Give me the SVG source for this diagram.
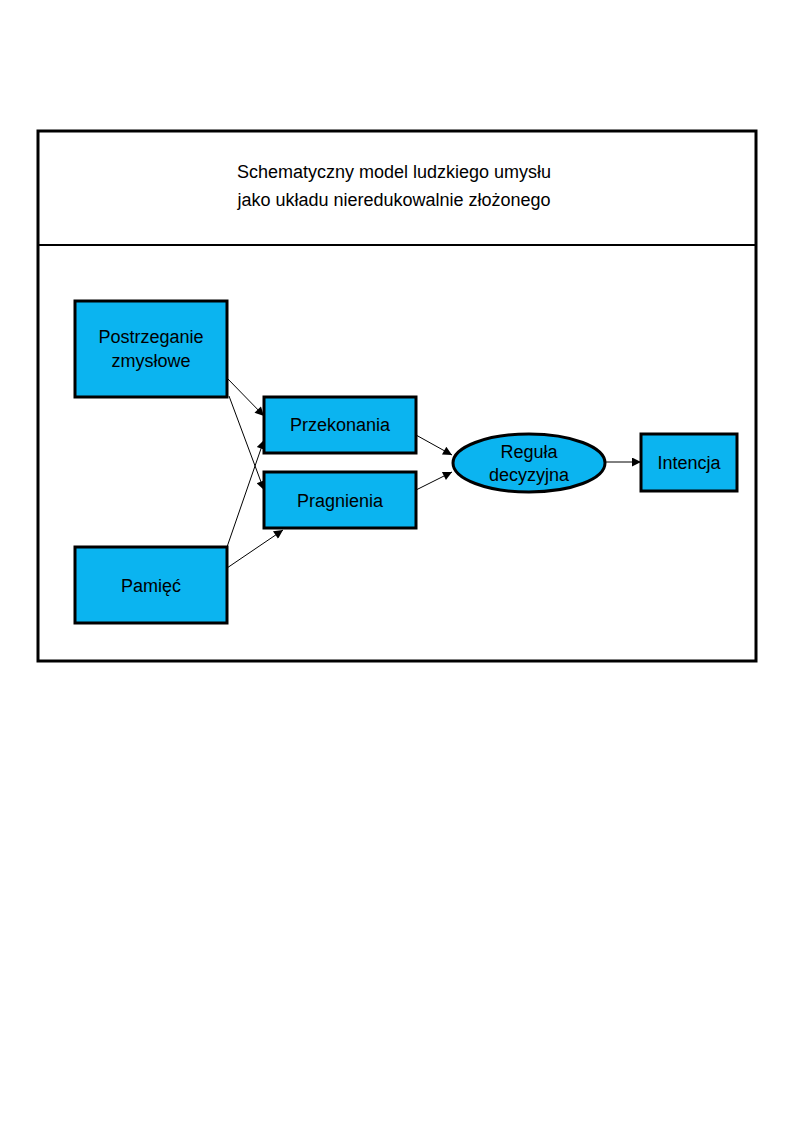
<svg xmlns="http://www.w3.org/2000/svg" width="794" height="1123" viewBox="0 0 794 1123">
<style>
.n{fill:#00B0F0;fill:#0bb4f0;stroke:#000;stroke-width:3}
.t{font-family:"Liberation Sans",Arial,sans-serif;font-size:18px;text-anchor:middle;fill:#000}
.c line{stroke:#000;stroke-width:1;marker-end:url(#a)}
</style>
<defs><marker id="a" viewBox="0 0 10 10" refX="10" refY="5" markerWidth="12" markerHeight="9" markerUnits="userSpaceOnUse" orient="auto"><path d="M0,0L10,5L0,10z" fill="#000"/></marker></defs>
<rect width="794" height="1123" fill="#fff"/>
<g id="frame"><rect x="38" y="131" width="718" height="530" fill="none" stroke="#000" stroke-width="3"/><line x1="38" y1="245" x2="756" y2="245" stroke="#000" stroke-width="2"/>
<text class="t" x="394" y="178" font-size="20">Schematyczny model ludzkiego umysłu</text><text class="t" x="394" y="206" font-size="20">jako układu nieredukowalnie złożonego</text></g>
<g class="c">
<line x1="227" y1="378" x2="264" y2="416"/>
<line x1="229" y1="396" x2="264" y2="490"/>
<line x1="227" y1="547" x2="264" y2="440"/>
<line x1="227" y1="568" x2="283" y2="530"/>
<line x1="416" y1="435" x2="452" y2="455"/>
<line x1="416" y1="490" x2="452" y2="472"/>
<line x1="605" y1="462" x2="641" y2="462"/>
</g>
<g id="postrzeganie"><rect class="n" x="75" y="301" width="152" height="96"/><text class="t" x="151" y="343">Postrzeganie</text><text class="t" x="151" y="367">zmysłowe</text></g>
<g id="pamiec"><rect class="n" x="75" y="547" width="152" height="76"/><text class="t" x="151" y="592">Pamięć</text></g>
<g id="przekonania"><rect class="n" x="264" y="397" width="152" height="56"/><text class="t" x="340" y="431">Przekonania</text></g>
<g id="pragnienia"><rect class="n" x="264" y="472" width="152" height="56"/><text class="t" x="340" y="507">Pragnienia</text></g>
<g id="regula"><ellipse class="n" cx="529" cy="463" rx="76" ry="29"/><text class="t" x="529" y="458">Reguła</text><text class="t" x="529" y="481">decyzyjna</text></g>
<g id="intencja"><rect class="n" x="641" y="434" width="96" height="57"/><text class="t" x="689" y="469">Intencja</text></g>
</svg>
